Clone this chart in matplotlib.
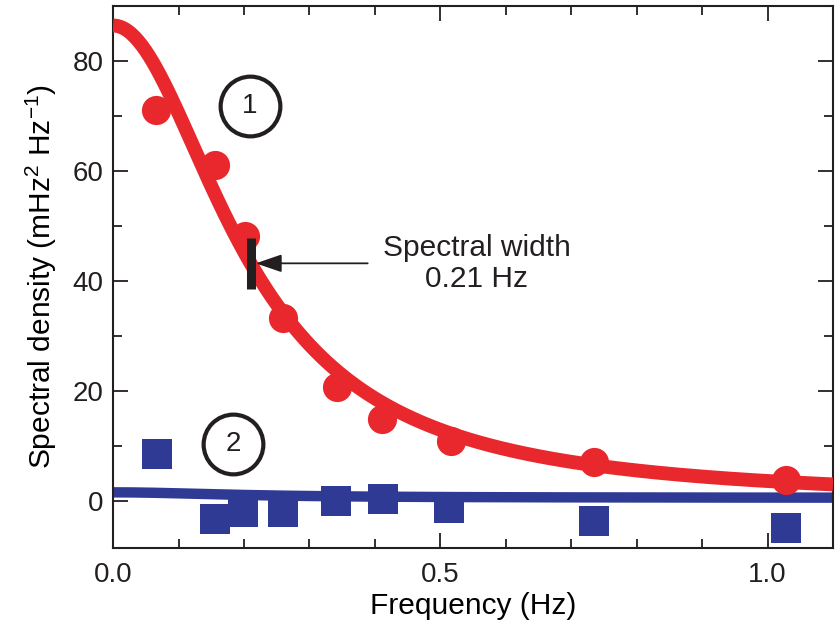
import matplotlib
matplotlib.use('Agg')
import matplotlib.pyplot as plt
from matplotlib.ticker import MultipleLocator
import numpy as np

C_INK, C_RED, C_BLUE = '#231f20', '#e8282d', '#2e3a94'

plt.rcParams.update({
    'font.family': 'Liberation Sans',
    'mathtext.fontset': 'custom',
    'mathtext.rm': 'Liberation Sans',
    'mathtext.it': 'Liberation Sans',
    'text.color': C_INK,
    'axes.edgecolor': C_INK,
    'xtick.color': C_INK,
    'ytick.color': C_INK,
})

# measured spectral density, run 1 (circles) and run 2 (squares)
freq_1 = [0.066, 0.155, 0.201, 0.259, 0.342, 0.411, 0.516, 0.735, 1.028]
dens_1 = [71.2, 61.1, 48.2, 33.3, 20.7, 14.9, 11.0, 7.2, 3.9]
freq_2 = [0.067, 0.156, 0.198, 0.259, 0.340, 0.412, 0.514, 0.735, 1.028]
dens_2 = [8.5, -3.2, -1.9, -1.9, 0.0, 0.3, -1.3, -3.7, -4.9]

# Lorentzian fits
peak_1, offset_1 = 86.5, 0.0
peak_2, offset_2 = 1.0, 0.6
spectral_width = 0.21  # Hz, half width at half maximum


def lorentz(f, peak, offset):
    return offset + peak / (1 + (f / spectral_width) ** 2)


f = np.linspace(0, 1.1, 400)

fig = plt.figure(figsize=(8.38, 6.29), dpi=100)
ax = fig.add_axes([0.135, 0.129, 0.859, 0.861])

ax.plot(f, lorentz(f, peak_2, offset_2), color=C_BLUE, lw=7.5, zorder=2,
        solid_capstyle='butt')
ax.plot(f, lorentz(f, peak_1, offset_1), color=C_RED, lw=10, zorder=3,
        solid_capstyle='butt')
ax.plot(freq_2, dens_2, ls='none', marker='s', ms=21, color=C_BLUE, mew=0, zorder=4)
ax.plot(freq_1, dens_1, ls='none', marker='o', ms=21, color=C_RED, mew=0, zorder=5)

# spectral width marker and label
half_max = lorentz(spectral_width, peak_1, offset_1)
ax.plot([spectral_width, spectral_width], [half_max - 4.6, half_max + 4.6],
        color=C_INK, lw=6.5, solid_capstyle='butt', zorder=6)
ax.annotate('', xy=(spectral_width + 0.008, half_max), xytext=(0.389, half_max),
            arrowprops=dict(arrowstyle='-|>,head_length=1.6,head_width=0.55',
                            color=C_INK, lw=1.3, shrinkA=0, shrinkB=0), zorder=6)
ax.text(0.556, half_max, 'Spectral width\n0.21 Hz', ha='center', va='center',
        fontsize=21.5, linespacing=1.15)

# circled run numbers
for x, y, s in [(0.209, 71.9, '1'), (0.183, 10.3, '2')]:
    ax.plot(x, y, marker='o', ms=43, mfc='white', mec=C_INK, mew=3, zorder=6)
    ax.text(x, y, s, ha='center', va='center', fontsize=20, zorder=7)

ax.set_xlim(0, 1.1)
ax.set_ylim(-8.5, 90)
ax.xaxis.set_major_locator(MultipleLocator(0.5))
ax.xaxis.set_minor_locator(MultipleLocator(0.1))
ax.yaxis.set_major_locator(MultipleLocator(20))
ax.yaxis.set_minor_locator(MultipleLocator(10))
ax.xaxis.set_major_formatter(plt.FuncFormatter(lambda v, p: f'{v:.1f}'))
ax.tick_params(which='both', direction='in', top=True, right=True, width=1.3,
               labelsize=20)
ax.tick_params(which='major', length=11)
ax.tick_params(which='minor', length=6.5)
ax.tick_params(axis='x', pad=10)
ax.tick_params(axis='y', pad=7)
for sp in ax.spines.values():
    sp.set_linewidth(1.5)

ax.set_xlabel('Frequency (Hz)', fontsize=21.5, labelpad=3)
ax.set_ylabel('Spectral density (mHz$^2$ Hz$^{-1}$)', fontsize=21.5, labelpad=10)

fig.savefig('out.png', dpi=100)
